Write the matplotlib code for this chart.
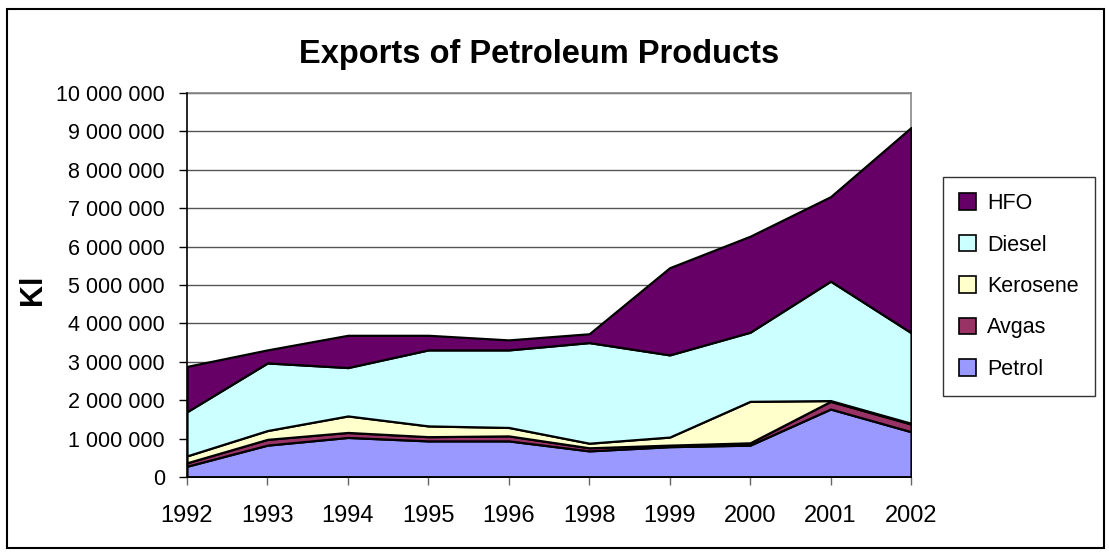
import matplotlib
matplotlib.use("Agg")
import matplotlib.pyplot as plt
from matplotlib.patches import Rectangle, Patch
from matplotlib.ticker import FuncFormatter, MultipleLocator

years = ["1992", "1993", "1994", "1995", "1996", "1998", "1999", "2000", "2001", "2002"]
petrol = [280000, 830000, 1030000, 940000, 940000, 680000, 790000, 830000, 1770000, 1180000]
avgas = [90000, 150000, 130000, 110000, 130000, 80000, 40000, 60000, 200000, 200000]
kerosene = [180000, 230000, 430000, 280000, 220000, 120000, 210000, 1080000, 20000, 20000]
diesel = [1150000, 1760000, 1260000, 1980000, 2020000, 2620000, 2140000, 1800000, 3110000, 2360000]
hfo = [1180000, 340000, 840000, 380000, 260000, 230000, 2270000, 2500000, 2200000, 5340000]

names = ["Petrol", "Avgas", "Kerosene", "Diesel", "HFO"]
colors = ["#9999FF", "#993366", "#FFFFCC", "#CCFFFF", "#660066"]

plt.rcParams['font.family'] = ['Liberation Sans', 'DejaVu Sans']

fig = plt.figure(figsize=(11.09, 5.54), dpi=100)
ax = fig.add_axes([187/1109, 1-477/554, (911-187)/1109, (477-93)/554])

x = list(range(len(years)))
ax.stackplot(x, petrol, avgas, kerosene, diesel, hfo, colors=colors,
             edgecolor="black", linewidth=1.6, zorder=3)

ax.set_xlim(0, len(years)-1)
ax.set_ylim(0, 10000000)
ax.yaxis.set_major_locator(MultipleLocator(1000000))
ax.yaxis.set_major_formatter(FuncFormatter(lambda v, p: f"{int(v):,}".replace(",", " ")))
ax.set_xticks(x)
ax.set_xticklabels(years)
ax.grid(axis="y", color="#555555", linewidth=1.0, zorder=1)
ax.set_axisbelow(True)

for s in ["top", "right"]:
    ax.spines[s].set_color("#888888")
    ax.spines[s].set_linewidth(1.2)
for s in ["left", "bottom"]:
    ax.spines[s].set_color("black")
    ax.spines[s].set_linewidth(1.2)
    ax.spines[s].set_zorder(5)

ax.tick_params(axis="y", direction="out", length=6, width=1, pad=10, labelsize=15.5)
ax.tick_params(axis="x", direction="out", length=6, width=1, pad=14, labelsize=17, color="#666666")

fig.text(0.030, 1-290/554, "Kl", rotation=90, fontsize=22, fontweight="bold",
         ha="center", va="center")
fig.text(539/1109, 1-55/554, "Exports of Petroleum Products", fontsize=23.5,
         fontweight="bold", ha="center", va="center")

handles = [Patch(facecolor=c, edgecolor="black", linewidth=1.2) for c in colors][::-1]
labels = names[::-1]
leg = fig.legend(handles, labels, loc="upper left", bbox_to_anchor=(943/1109, 1-177/554),
                 fontsize=15.5, frameon=True, fancybox=False, edgecolor="black",
                 handlelength=0.8, handleheight=0.8, handletextpad=0.5,
                 labelspacing=0.95, borderpad=0.75, borderaxespad=0)
leg.get_frame().set_linewidth(1.0)

fig.patches.append(Rectangle((7/1109, 1-548/554), (1104-7)/1109, (548-9)/554,
                             transform=fig.transFigure, fill=False,
                             edgecolor="black", linewidth=1.5))

fig.savefig("out.png", dpi=100)
